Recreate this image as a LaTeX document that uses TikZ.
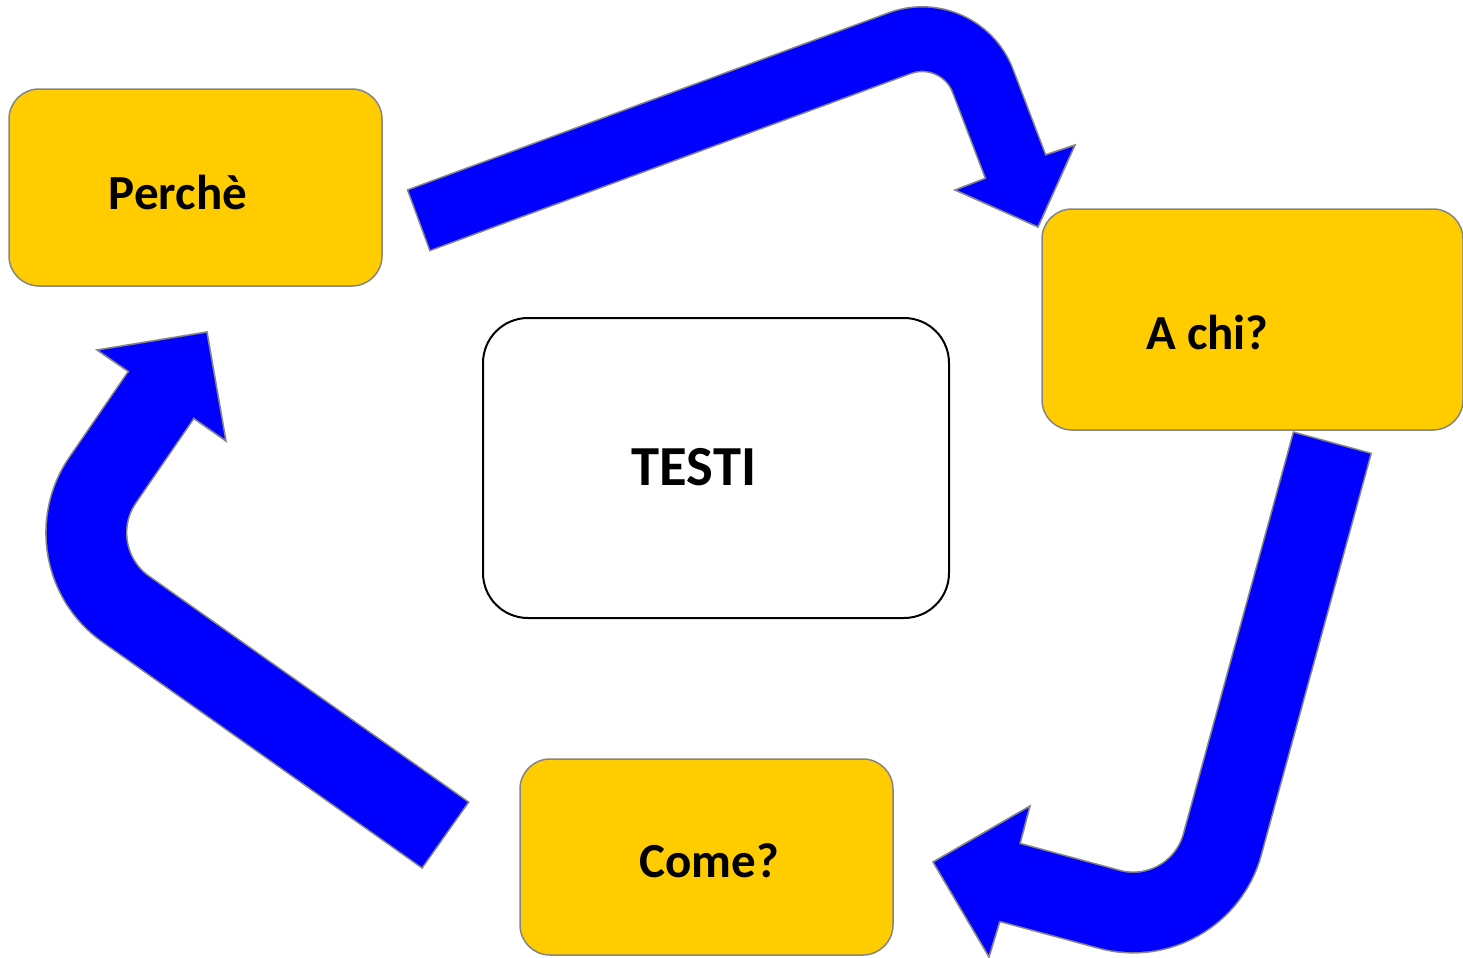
\documentclass[tikz,border=0pt]{standalone}
\usepackage{fontspec}
\setmainfont{Carlito}
\usepackage{tikz}
\usetikzlibrary{calc}
\definecolor{boxyellow}{HTML}{FFCC00}
\definecolor{arrowblue}{HTML}{0000FF}
\definecolor{rimgray}{HTML}{858585}

\begin{document}
\begin{tikzpicture}[x=0.5pt,y=-0.5pt,
  ybox/.style={draw=rimgray,line width=0.75pt,fill=boxyellow,rounded corners=15pt,inner sep=0pt},
  lbl/.style={anchor=base,font=\fontsize{24.5}{29}\selectfont\bfseries},
  rim/.style={draw=rimgray,line width=#1},
  body/.style={draw=arrowblue,line width=#1},
  head/.style={fill=arrowblue,draw=rimgray,line width=0.8pt,line join=miter}]
  \useasboundingbox (0,0) rectangle (1463,958);
  % boxes
  \node[ybox,minimum width=186.5pt,minimum height=98.5pt] (perche) at (195.5,187.5) {};
  \node[ybox,minimum width=210.5pt,minimum height=110.5pt] (achi) at (1252.5,319.5) {};
  \node[ybox,minimum width=186.5pt,minimum height=98pt] (come) at (706.5,857) {};
  \node[draw=black,line width=1pt,fill=white,rounded corners=22.5pt,inner sep=0pt,
        minimum width=233pt,minimum height=150pt] (testi) at (716,468) {};
  \node[lbl] (percheT) at (178,209) {Perchè};
  \node[lbl] (achiT) at (1207.5,349) {A chi?};
  \node[lbl] (comeT) at (709,877) {Come?};
  \node[lbl,font=\fontsize{28.3}{33}\selectfont\bfseries] (testiT) at (694,485) {TESTI};
  % Perchè -> A chi?
  \coordinate (a1s) at (418,220.5);
  \coordinate (a1c) at (960,21);
  \coordinate (a1e) at (1017.3,171.2);
  \draw[rim=33.1pt,rounded corners=32pt] (a1s) -- (a1c) -- (a1e);
  \draw[body=31.5pt,rounded corners=32pt] ($(a1s)!0.8pt!(a1c)$) -- (a1c) -- (a1e);
  \filldraw[head] (986,178) -- (955,190) -- (1038,227) -- (1075,145) -- (1045,155);
  % A chi? -> Come?
  \coordinate (a2s) at (1332.5,442);
  \coordinate (a2c) at (1198,933.3);
  \coordinate (a2e) at (1005.2,881.2);
  \draw[rim=41.1pt,rounded corners=46pt] (a2s) -- (a2c) -- (a2e);
  \draw[body=39.5pt,rounded corners=46pt] ($(a2s)!0.8pt!(a2c)$) -- (a2c) -- (a2e);
  \filldraw[head] (1020,844) -- (1030,806) -- (933,862) -- (989,957) -- (1000,921);
  % Come? -> Perchè
  \coordinate (a3s) at (446,835.5);
  \coordinate (a3c) at (50.5,555.9);
  \coordinate (a3e) at (163.9,390.9);
  \draw[rim=41.1pt,rounded corners=46pt] (a3s) -- (a3c) -- (a3e);
  \draw[body=39.5pt,rounded corners=46pt] ($(a3s)!0.8pt!(a3c)$) -- (a3c) -- (a3e);
  \filldraw[head] (129,372) -- (97,350) -- (207,332) -- (226,441) -- (193,418);
\end{tikzpicture}
\end{document}
